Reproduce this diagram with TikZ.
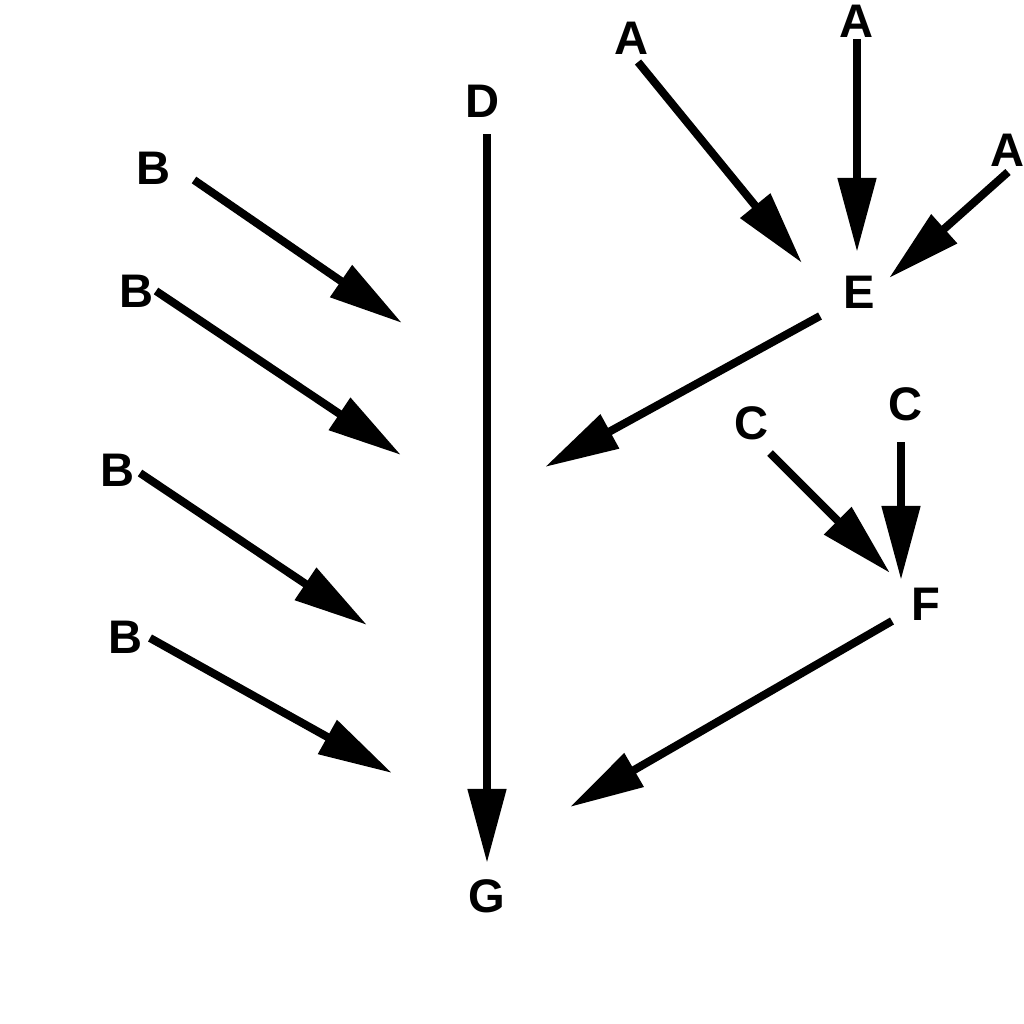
\documentclass[tikz,border=0pt]{standalone}
\usepackage{fontspec}
\setmainfont{Liberation Sans}
\usetikzlibrary{arrows.meta}

\tikzset{
  lbl/.style={inner sep=0pt,font=\bfseries\fontsize{13.4}{16}\selectfont},
  arr/.style={line width=0.08cm,black,-{Triangle[length=0.74cm,width=0.37cm]}}
}

\begin{document}
\begin{tikzpicture}[x=0.01cm,y=-0.01cm]
        \useasboundingbox (0,0) rectangle (1024,1024);

        % labels
        \node[lbl] (D) at (483,101) {D};
        \node[lbl] (G) at (487,896) {G};
        \node[lbl] (B1) at (154,168) {B};
        \node[lbl] (B2) at (137,291) {B};
        \node[lbl] (B3) at (118,470) {B};
        \node[lbl] (B4) at (126,637) {B};
        \node[lbl] (A1) at (632,38) {A};
        \node[lbl] (A2) at (857,21) {A};
        \node[lbl] (A3) at (1008,150) {A};
        \node[lbl] (E) at (859,292) {E};
        \node[lbl] (C1) at (752,423) {C};
        \node[lbl] (C2) at (906,404) {C};
        \node[lbl] (F) at (926,604) {F};

        % arrow ends
        \coordinate (d0) at (487,134);   \coordinate (d1) at (487,863);
        \coordinate (b10) at (194,180);  \coordinate (b11) at (402,323);
        \coordinate (b20) at (156,291);  \coordinate (b21) at (401,455);
        \coordinate (b30) at (140,473);  \coordinate (b31) at (367,625);
        \coordinate (b40) at (150,638);  \coordinate (b41) at (392,773);
        \coordinate (a10) at (638,62);   \coordinate (a11) at (802,263);
        \coordinate (a20) at (857,39);   \coordinate (a21) at (857,252);
        \coordinate (a30) at (1008,172); \coordinate (a31) at (889,278);
        \coordinate (e0) at (820,316);   \coordinate (e1) at (545,467);
        \coordinate (c10) at (770,453);  \coordinate (c11) at (890,573);
        \coordinate (c20) at (901,442);  \coordinate (c21) at (901,580);
        \coordinate (f0) at (892,621);   \coordinate (f1) at (570,807);

        \draw[arr] (d0)--(d1);
        \draw[arr] (b10)--(b11);
        \draw[arr] (b20)--(b21);
        \draw[arr] (b30)--(b31);
        \draw[arr] (b40)--(b41);
        \draw[arr] (a10)--(a11);
        \draw[arr] (a20)--(a21);
        \draw[arr] (a30)--(a31);
        \draw[arr] (e0)--(e1);
        \draw[arr] (c10)--(c11);
        \draw[arr] (c20)--(c21);
        \draw[arr] (f0)--(f1);
    \end{tikzpicture}
\end{document}
